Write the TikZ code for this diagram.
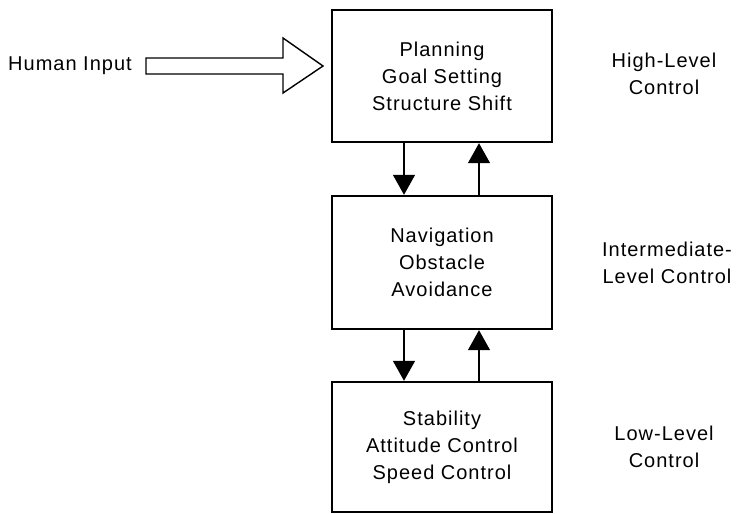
\documentclass[tikz,border=0pt]{standalone}
\usepackage{fontspec}
\setmainfont{Liberation Sans}[LetterSpace=5]
\usetikzlibrary{arrows.meta}
\begin{document}
\begin{tikzpicture}[x=1pt,y=-1pt,
  txt/.style={font=\fontsize{20}{27}\selectfont, align=center, inner sep=0pt},
  levelbox/.style={draw, line width=2.4pt, minimum width=220pt, inner sep=0pt,
    font=\fontsize{20}{27}\selectfont, align=center},
  link/.style={line width=1.4pt, -{Triangle[width=22pt,length=20pt]}},
  bigarrow/.style={draw, line width=1.4pt, fill=white, line join=miter}]
\useasboundingbox (0,0) rectangle (737,514);
\node[levelbox, minimum height=132pt] (top) at (442,76) {Planning\\Goal Setting\\Structure Shift};
\node[levelbox, minimum height=133pt] (mid) at (442,262.5) {Navigation\\Obstacle\\Avoidance};
\node[levelbox, minimum height=130pt] (bot) at (442,447) {Stability\\Attitude Control\\Speed Control};
\node[txt] (human) at (70,66) {Human Input};
\node[txt] (hl) at (664,74) {High-Level\\Control};
\node[txt] (il) at (667,263) {Intermediate-\\Level Control};
\node[txt] (ll) at (664,447) {Low-Level\\Control};
\draw[link] ([xshift=-38pt]top.south) -- ([xshift=-38pt]mid.north);
\draw[link] ([xshift=37pt]mid.north) -- ([xshift=37pt]top.south);
\draw[link] ([xshift=-38pt]mid.south) -- ([xshift=-38pt]bot.north);
\draw[link] ([xshift=37pt]bot.north) -- ([xshift=37pt]mid.south);
\coordinate (tail) at (146,66);
\coordinate (tip) at (323,66);
\draw[bigarrow] (tail) ++(0,-8) -- ++(137,0) -- ++(0,-20) -- (tip)
  -- ++(-40,27) -- ++(0,-19) -- ++(-137,0) -- cycle;
\end{tikzpicture}
\end{document}
